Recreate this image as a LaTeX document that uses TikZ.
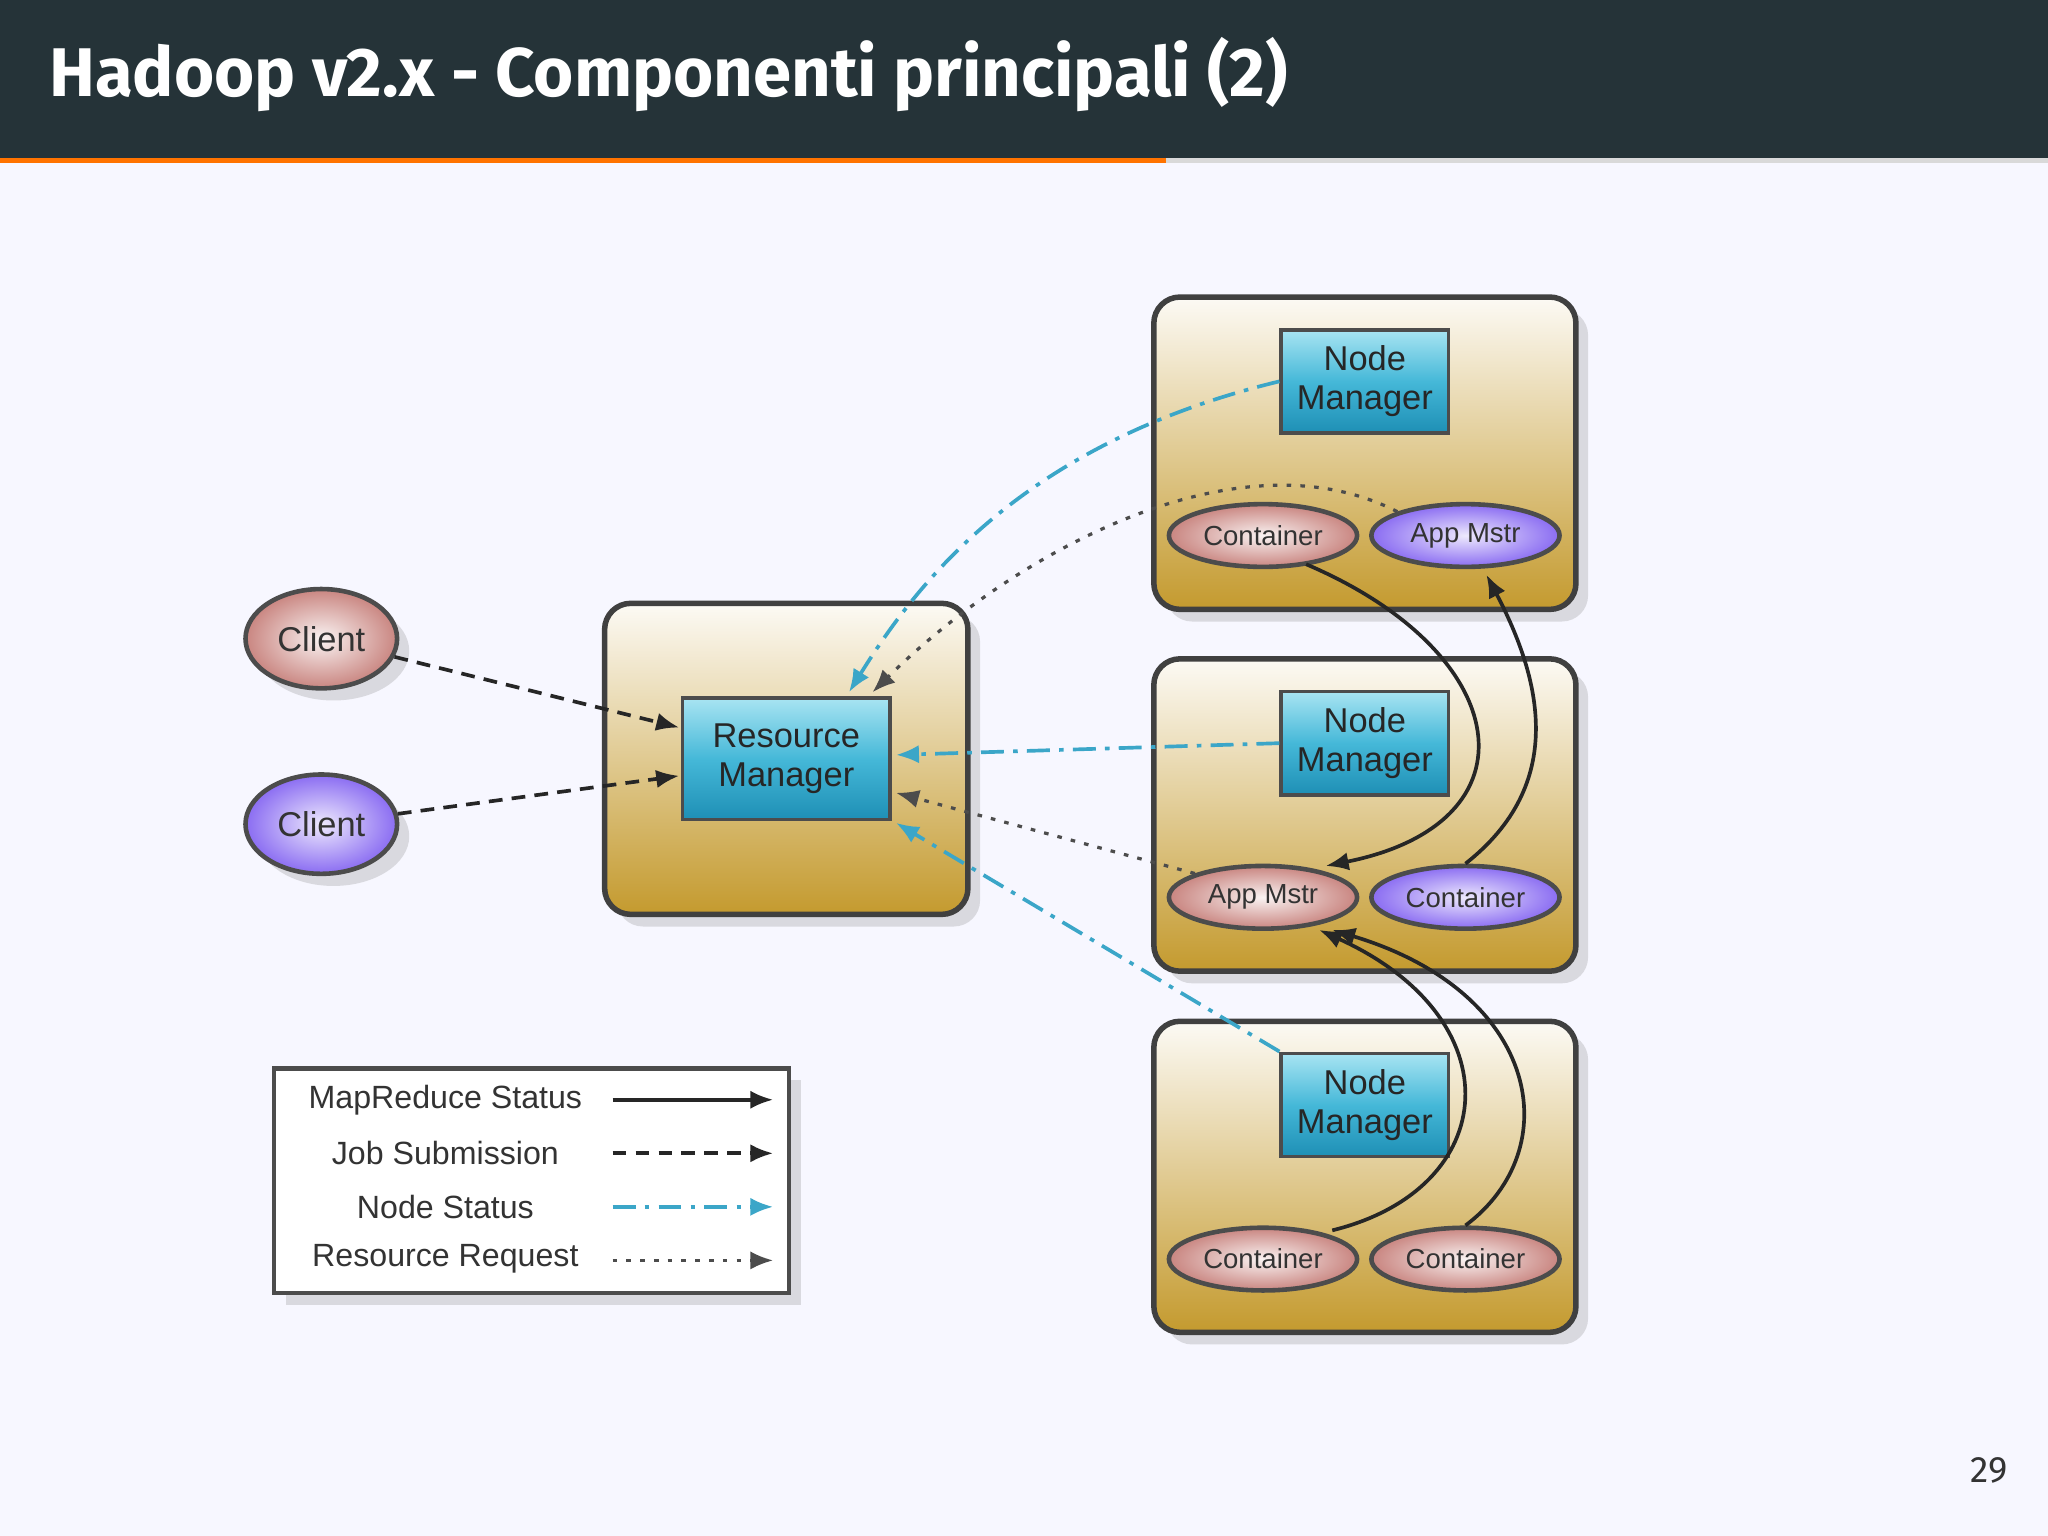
\documentclass[tikz,border=0pt]{standalone}
\usepackage{fontspec}
\setmainfont{Liberation Sans}
\newfontfamily\fira{Fira Sans}
\usetikzlibrary{shapes.geometric,arrows.meta,shadows}
\definecolor{bar}{HTML}{253338}
\definecolor{gold}{HTML}{C49A2E}
\definecolor{mtop}{HTML}{A8E4F2}
\definecolor{mmid}{HTML}{45B8D8}
\definecolor{mbot}{HTML}{1E8FB5}
\definecolor{pk}{HTML}{C98580}
\definecolor{pu}{HTML}{8A6CF2}
\definecolor{ncol}{HTML}{3BA6C8}
\begin{document}
\begin{tikzpicture}[x=0.01cm,y=-0.01cm,
 box/.style={draw=black!75,line width=1.2pt,rounded corners=0.2cm,top color=white!95!gold,bottom color=gold,drop shadow={opacity=0.25}},
 mgr/.style={draw=black!70,line width=0.8pt,rectangle,top color=mtop,bottom color=mbot,middle color=mmid,align=center,font=\fontsize{7.5}{8.5}\selectfont,text=black!85,inner sep=0pt},
 pink/.style={draw=black!70,line width=1pt,ellipse,inner color=white!90!pk,outer color=pk,minimum width=1.44cm,minimum height=0.48cm,font=\fontsize{6}{7}\selectfont,text=black!80,inner sep=0pt},
 purp/.style={draw=black!70,line width=1pt,ellipse,inner color=white!85!pu,outer color=pu,minimum width=1.44cm,minimum height=0.48cm,font=\fontsize{6}{7}\selectfont,text=black!80,inner sep=0pt},
 cl/.style={minimum width=1.16cm,minimum height=0.76cm,font=\fontsize{7.5}{8}\selectfont,drop shadow={opacity=0.25}},
 ms/.style={-{Latex[length=5pt,width=4pt]},line width=0.8pt,black!85},
 js/.style={ms,dash pattern=on 3pt off 2pt},
 ns/.style={-{Latex[length=5pt,width=4pt]},line width=0.8pt,ncol,dash pattern=on 5pt off 2pt on 1pt off 2pt},
 rs/.style={ms,line width=0.7pt,black!70,dash pattern=on 1pt off 2pt}]
\useasboundingbox (0,0) rectangle (1568,1176);
\fill[white!97!blue] (0,0) rectangle (1568,1176);
\fill[bar] (0,0) rectangle (1568,122);
\fill[orange!90!red] (0,121) rectangle (893,125);
\fill[black!15] (893,121) rectangle (1568,125);
\node[anchor=west,inner sep=0pt,text=white,font=\fira\bfseries\fontsize{15}{17}\selectfont] (title) at (37,57) {Hadoop v2.x - Componenti principali (2)};
\node[font=\fira\fontsize{8}{9}\selectfont,text=black!80] (pg) at (1523,1126) {29};
% boxes
\node[box,minimum width=2.78cm,minimum height=2.38cm] (rmb) at (602,581) {};
\node[box,minimum width=3.23cm,minimum height=2.39cm] (b1) at (1045,347) {};
\node[box,minimum width=3.23cm,minimum height=2.39cm] (b2) at (1045,624) {};
\node[box,minimum width=3.23cm,minimum height=2.38cm] (b3) at (1045,901) {};
\node[mgr,minimum width=1.59cm,minimum height=0.93cm] (rm) at (602,581) {Resource\\Manager};
\node[mgr,minimum width=1.28cm,minimum height=0.79cm] (nm1) at (1045,292) {Node\\Manager};
\node[mgr,minimum width=1.28cm,minimum height=0.79cm] (nm2) at (1045,569) {Node\\Manager};
\node[mgr,minimum width=1.28cm,minimum height=0.79cm] (nm3) at (1045,846) {Node\\Manager};
\node[pink] (c1) at (967,410) {Container};
\node[purp] (a1) at (1122,410) {App Mstr};
\node[pink] (a2) at (967,687) {App Mstr};
\node[purp] (c2) at (1122,687) {Container};
\node[pink] (c3) at (967,964) {Container};
\node[pink] (c4) at (1122,964) {Container};
\node[pink,cl] (cl1) at (246,489) {Client};
\node[purp,cl] (cl2) at (246,631) {Client};
% connectors
\draw[js] (cl1) -- (520,557);
\draw[js] (cl2) -- (520,594);
\draw[ns] (nm1.west) .. controls (780,340) and (700,450) .. (650,530);
\draw[rs] (a1.north west) .. controls (950,330) and (780,420) .. (668,530);
\draw[ns] (nm2.west) -- (686,578);
\draw[rs] (a2.north west) -- (686,607);
\draw[ns] (nm3.north west) -- (686,630);
\draw[ms] (1000,432) .. controls (1160,500) and (1180,630) .. (1015,663);
\draw[ms] (c2.north) .. controls (1200,600) and (1180,520) .. (1138,440);
\draw[ms] (1020,942) .. controls (1150,910) and (1160,780) .. (1010,712);
\draw[ms] (c4.north) .. controls (1200,880) and (1180,760) .. (1020,712);
% legend
\node[draw=black!70,line width=1pt,fill=white,minimum width=3.94cm,minimum height=1.72cm,drop shadow={opacity=0.25}] (leg) at (407,904) {};
\begin{scope}[font=\fontsize{7}{8}\selectfont,text=black!80]
\node (l1) at (341,842) {MapReduce Status};
\node (l2) at (341,883) {Job Submission};
\node (l3) at (341,924) {Node Status};
\node (l4) at (341,964) {Resource Request};
\end{scope}
\coordinate (s1) at (469,842); \coordinate (e1) at (592,842);
\coordinate (s2) at (469,883); \coordinate (e2) at (592,883);
\coordinate (s3) at (469,924); \coordinate (e3) at (592,924);
\coordinate (s4) at (469,965); \coordinate (e4) at (592,965);
\draw[ms] (s1) -- (e1);
\draw[js] (s2) -- (e2);
\draw[ns] (s3) -- (e3);
\draw[rs] (s4) -- (e4);
\end{tikzpicture}
\end{document}
